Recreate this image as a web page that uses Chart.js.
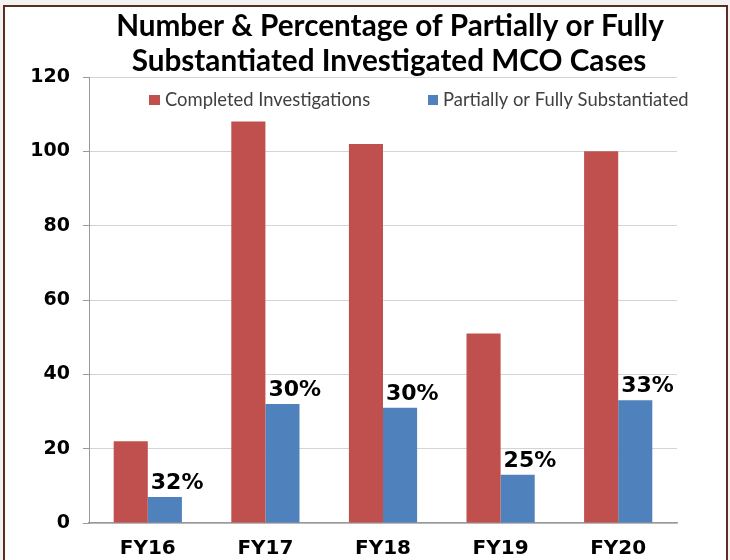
<!DOCTYPE html>
<html>
<head>
<meta charset="utf-8">
<script src="https://cdn.jsdelivr.net/npm/chart.js@4/dist/chart.umd.min.js"></script>
<style>
  html, body { margin: 0; padding: 0; background: #f2f2f2; }
  #wrap { position: absolute; left: 0; top: 0; width: 730px; height: 560px; }
</style>
</head>
<body>
<div id="wrap"><canvas id="chart" width="730" height="560"></canvas></div>
<script>
// chart data
const years = ['FY16', 'FY17', 'FY18', 'FY19', 'FY20'];
const completed = [22, 108, 102, 51, 100];
const substantiated = [7, 32, 31, 13, 33];
const percentLabels = ['32%', '30%', '30%', '25%', '33%'];
const titleLines = ['Number & Percentage of Partially or Fully', 'Substantiated Investigated MCO Cases'];
const seriesNames = ['Completed Investigations', 'Partially or Fully Substantiated'];
const yTicks = { min: 0, max: 120, step: 20 };

const RED = '#c0504d';
const BLUE = '#4f81bd';

// border, title and in-plot legend
const decorations = {
    id: 'decorations',
    beforeDraw(chart) {
        const ctx = chart.ctx;
        ctx.save();
        ctx.fillStyle = '#ffffff';
        ctx.fillRect(4, 6, 723, 560);
        ctx.strokeStyle = '#5b2d22';
        ctx.lineWidth = 2;
        ctx.strokeRect(4, 6, 723, 560);
        ctx.restore();
    },
    afterDraw(chart) {
        const ctx = chart.ctx;
        ctx.save();
        ctx.fillStyle = '#000';
        ctx.textAlign = 'center';
        ctx.textBaseline = 'alphabetic';
        ctx.font = 'bold 29.7px Lato';
        ctx.fillText(titleLines[0], 390, 36);
        ctx.fillText(titleLines[1], 389, 71);

        ctx.font = '18.4px Lato';
        ctx.textAlign = 'left';
        ctx.fillStyle = RED;
        ctx.fillRect(149, 95, 11, 10);
        ctx.fillStyle = BLUE;
        ctx.fillRect(428, 95, 10, 10);
        ctx.fillStyle = '#404040';
        ctx.fillText(seriesNames[0], 165, 106);
        ctx.fillText(seriesNames[1], 443, 106);
        ctx.restore();
    }
};

// percentage labels above the blue bars
const percentPlugin = {
    id: 'percentPlugin',
    afterDatasetsDraw(chart) {
        const ctx = chart.ctx;
        const meta = chart.getDatasetMeta(1);
        ctx.save();
        ctx.font = 'bold 22px "DejaVu Sans"';
        ctx.fillStyle = '#000';
        ctx.textAlign = 'left';
        ctx.textBaseline = 'alphabetic';
        meta.data.forEach((bar, i) => {
            ctx.fillText(percentLabels[i], bar.x - bar.width / 2 + 3, bar.y - 8);
        });
        ctx.restore();
    }
};

const ctx = document.getElementById('chart').getContext('2d');
new Chart(ctx, {
    type: 'bar',
    data: {
        labels: years,
        datasets: [
            { label: seriesNames[0], data: completed, backgroundColor: RED },
            { label: seriesNames[1], data: substantiated, backgroundColor: BLUE }
        ]
    },
    options: {
        responsive: false,
        animation: false,
        categoryPercentage: 0.58,
        barPercentage: 1,
        layout: { padding: { top: 77, right: 53, left: 0, bottom: 0 } },
        plugins: {
            legend: { display: false },
            title: { display: false },
            tooltip: { enabled: false }
        },
        scales: {
            x: {
                grid: { display: false, drawTicks: false },
                border: { color: '#9a9a9a', width: 1.5 },
                ticks: {
                    color: '#000',
                    padding: 14,
                    font: { family: 'DejaVu Sans', size: 20, weight: 'bold' }
                },
                afterFit(scale) { scale.height = 37; }
            },
            y: {
                min: yTicks.min,
                max: yTicks.max,
                ticks: {
                    stepSize: yTicks.step,
                    color: '#000',
                    padding: 13,
                    font: { family: 'DejaVu Sans', size: 19, weight: 'bold' }
                },
                grid: { color: '#d4d4d4', tickLength: 6, tickColor: '#9a9a9a' },
                border: { color: '#9a9a9a' },
                afterFit(scale) { scale.width = 89; }
            }
        }
    },
    plugins: [decorations, percentPlugin]
});
</script>
</body>
</html>
